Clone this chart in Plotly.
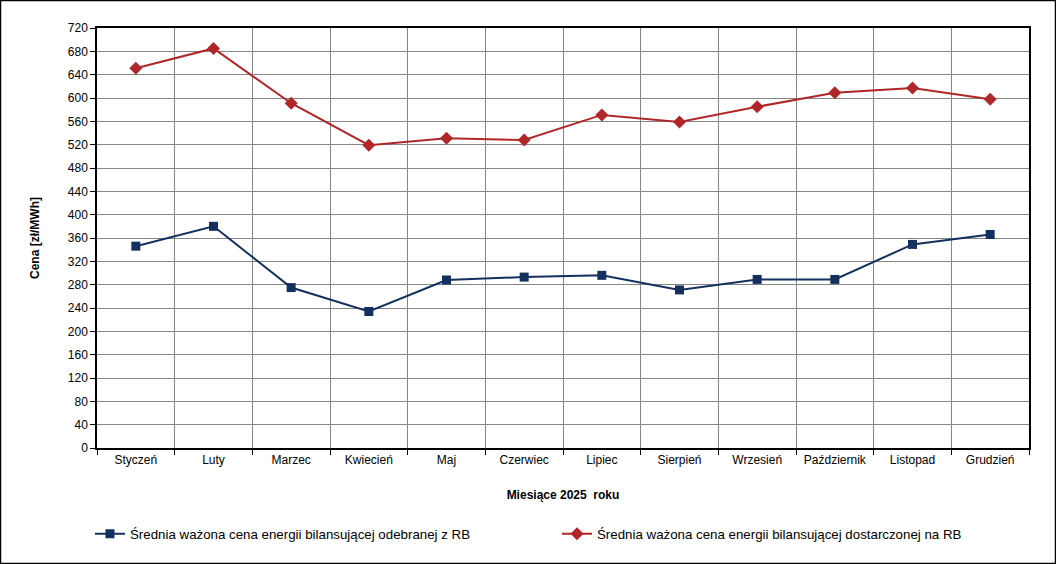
import plotly.graph_objects as go

months = ["Styczeń", "Luty", "Marzec", "Kwiecień", "Maj", "Czerwiec",
          "Lipiec", "Sierpień", "Wrzesień", "Październik", "Listopad", "Grudzień"]
odebranej = [346, 380, 275, 234, 288, 293, 296, 271, 289, 289, 349, 366]
dostarczonej = [651, 685, 591, 519, 531, 528, 571, 559, 585, 609, 617, 598]
name_odebranej = "Średnia ważona cena energii bilansującej odebranej z RB"
name_dostarczonej = "Średnia ważona cena energii bilansującej dostarczonej na RB"

W, H = 1056, 564
L, R, T, B = 97, 27, 28, 116
pw, ph = W - L - R, H - T - B

fig = go.Figure()
fig.add_trace(go.Scatter(x=months, y=odebranej, name=name_odebranej, mode="lines+markers",
                         line=dict(color="#14305E", width=2),
                         marker=dict(symbol="square", size=9, color="#14305E"),
                         legend="legend"))
fig.add_trace(go.Scatter(x=months, y=dostarczonej, name=name_dostarczonej, mode="lines+markers",
                         line=dict(color="#B0272A", width=2),
                         marker=dict(symbol="diamond", size=10, color="#B0272A"),
                         legend="legend2"))

font = "Liberation Sans, Arial, sans-serif"
leg_y = -(534 - 448) / ph
fig.update_layout(
    width=W, height=H,
    margin=dict(l=L, r=R, t=T, b=B),
    paper_bgcolor="white", plot_bgcolor="white",
    font=dict(family=font, size=12, color="black"),
    showlegend=True,
    legend=dict(orientation="h", x=(90 - L) / pw, xanchor="left", y=leg_y, yanchor="middle",
                font=dict(size=13.3, family=font), bgcolor="rgba(0,0,0,0)"),
    legend2=dict(orientation="h", x=(557 - L) / pw, xanchor="left", y=leg_y, yanchor="middle",
                 font=dict(size=13.3, family=font), bgcolor="rgba(0,0,0,0)"),
    xaxis=dict(type="category", tickson="boundaries", showgrid=True, gridcolor="#868686", gridwidth=1,
               showline=True, linecolor="black", linewidth=1.5, mirror=True,
               ticks="outside", ticklen=5, tickcolor="black",
               title=dict(text="<b>Miesiące 2025  roku</b>", standoff=24, font=dict(size=12)),
               range=[-0.5, 11.5]),
    yaxis=dict(range=[0, 720], dtick=40, showgrid=True, gridcolor="#868686", gridwidth=1,
               showline=True, linecolor="black", linewidth=1.5, mirror=True,
               ticks="outside", ticklen=5, tickcolor="black", zeroline=False,
               title=dict(text="<b>Cena [zł/MWh]</b>", standoff=26, font=dict(size=12))),
    shapes=[dict(type="rect", xref="paper", yref="paper",
                 x0=(0.5 - L) / pw, x1=(W - 0.5 - L) / pw,
                 y0=(T + ph - (H - 0.5)) / ph, y1=(T + ph - 0.5) / ph,
                 line=dict(color="black", width=1.5), fillcolor="rgba(0,0,0,0)", layer="above")],
)

fig.write_html("out.html", config={"displayModeBar": False},
               post_script="document.body.style.margin='0';document.body.style.overflow='hidden';")
